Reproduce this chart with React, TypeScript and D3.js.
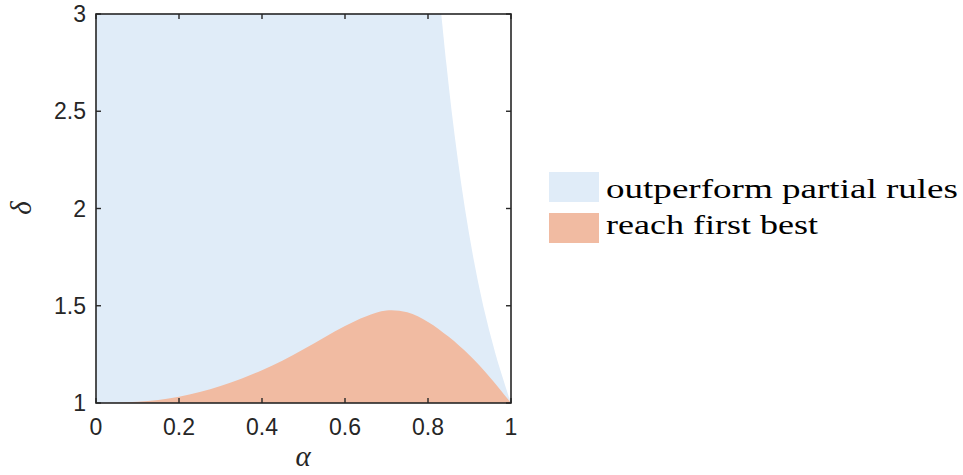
import React from "react";
import * as d3 from "d3";

const xTicks = [0, 0.2, 0.4, 0.6, 0.8, 1];
const yTicks = [1, 1.5, 2, 2.5, 3];
const xTickLabels = ["0", "0.2", "0.4", "0.6", "0.8", "1"];
const yTickLabels = ["1", "1.5", "2", "2.5", "3"];

// boundary of "outperform partial rules" region: alpha as function of delta
const blueDelta = [3.0, 2.75, 2.5, 2.25, 2.0, 1.75, 1.5, 1.25, 1.0];
const blueAlpha = [0.832, 0.844, 0.857, 0.872, 0.889, 0.909, 0.933, 0.963, 1.0];

// upper edge of "reach first best" region
const orangeAlpha = [0, 0.05, 0.1, 0.15, 0.2, 0.25, 0.3, 0.35, 0.4, 0.45, 0.5, 0.55, 0.6, 0.65, 0.7, 0.75, 0.8, 0.85, 0.9, 0.95, 1.0];
const orangeDelta = [1.0, 1.001, 1.006, 1.016, 1.032, 1.056, 1.087, 1.125, 1.169, 1.219, 1.276, 1.337, 1.396, 1.445, 1.476, 1.466, 1.417, 1.34, 1.245, 1.13, 1.0];

const legendLabels = ["outperform partial rules", "reach first best"];
const colors = ["#e0ecf8", "#f1bba2"];

export default function App() {
  const left = 96, right = 511, top = 14, bottom = 403;
  const x = d3.scaleLinear().domain([0, 1]).range([left, right]);
  const y = d3.scaleLinear().domain([1, 3]).range([bottom, top]);

  const blueLine = d3
    .line<[number, number]>()
    .x((p) => x(p[0]))
    .y((p) => y(p[1]))
    .curve(d3.curveCatmullRom.alpha(0.5));
  const edge = blueLine(blueDelta.map((d, i) => [blueAlpha[i], d] as [number, number])) || "";
  const bluePath = "M" + x(0) + "," + y(1) + "L" + x(0) + "," + y(3) + "L" + edge.slice(1) + "Z";

  const orangeArea = d3
    .area<number>()
    .x((_, i) => x(orangeAlpha[i]))
    .y0(y(1))
    .y1((d) => y(d))
    .curve(d3.curveCatmullRom.alpha(0.5));

  const axisColor = "#262626";
  const tickLen = 5;

  return (
    <svg width={963} height={475} style={{ position: "absolute", left: 0, top: 0 }}>
      <rect x={0} y={0} width={963} height={475} fill="#fff" />
      <path d={bluePath} fill={colors[0]} />
      <path d={orangeArea(orangeDelta) || ""} fill={colors[1]} />
      <rect x={left} y={top} width={right - left} height={bottom - top} fill="none" stroke={axisColor} strokeWidth={1.6} />
      {xTicks.map((t, i) => (
        <g key={"xt" + i}>
          <line x1={x(t)} x2={x(t)} y1={bottom} y2={bottom - tickLen} stroke={axisColor} strokeWidth={1.4} />
          <line x1={x(t)} x2={x(t)} y1={top} y2={top + tickLen} stroke={axisColor} strokeWidth={1.4} />
          <text x={x(t)} y={435} textAnchor="middle" fontFamily="Liberation Sans, Arial, sans-serif" fontSize={23} fill="#262626">
            {xTickLabels[i]}
          </text>
        </g>
      ))}
      {yTicks.map((t, i) => (
        <g key={"yt" + i}>
          <line x1={left} x2={left + tickLen} y1={y(t)} y2={y(t)} stroke={axisColor} strokeWidth={1.4} />
          <line x1={right} x2={right - tickLen} y1={y(t)} y2={y(t)} stroke={axisColor} strokeWidth={1.4} />
          <text x={86} y={y(t) + 8} textAnchor="end" fontFamily="Liberation Sans, Arial, sans-serif" fontSize={23} fill="#262626">
            {yTickLabels[i]}
          </text>
        </g>
      ))}
      <text x={303} y={466} textAnchor="middle" fontFamily="Liberation Serif, DejaVu Serif, serif" fontStyle="italic" fontSize={29} fill="#262626">
        α
      </text>
      <text transform="translate(31,208) rotate(-90)" textAnchor="middle" fontFamily="Liberation Serif, DejaVu Serif, serif" fontStyle="italic" fontSize={29} fill="#262626">
        δ
      </text>
      {legendLabels.map((l, i) => (
        <g key={"lg" + i}>
          <rect x={549} y={172 + i * 41} width={50} height={30} fill={colors[i]} />
          <text x={606} y={198 + i * 36} fontFamily="Liberation Serif, DejaVu Serif, serif" fontSize={28} fill="#000"
            textLength={i === 0 ? 352 : 212} lengthAdjust="spacingAndGlyphs">
            {l}
          </text>
        </g>
      ))}
    </svg>
  );
}
